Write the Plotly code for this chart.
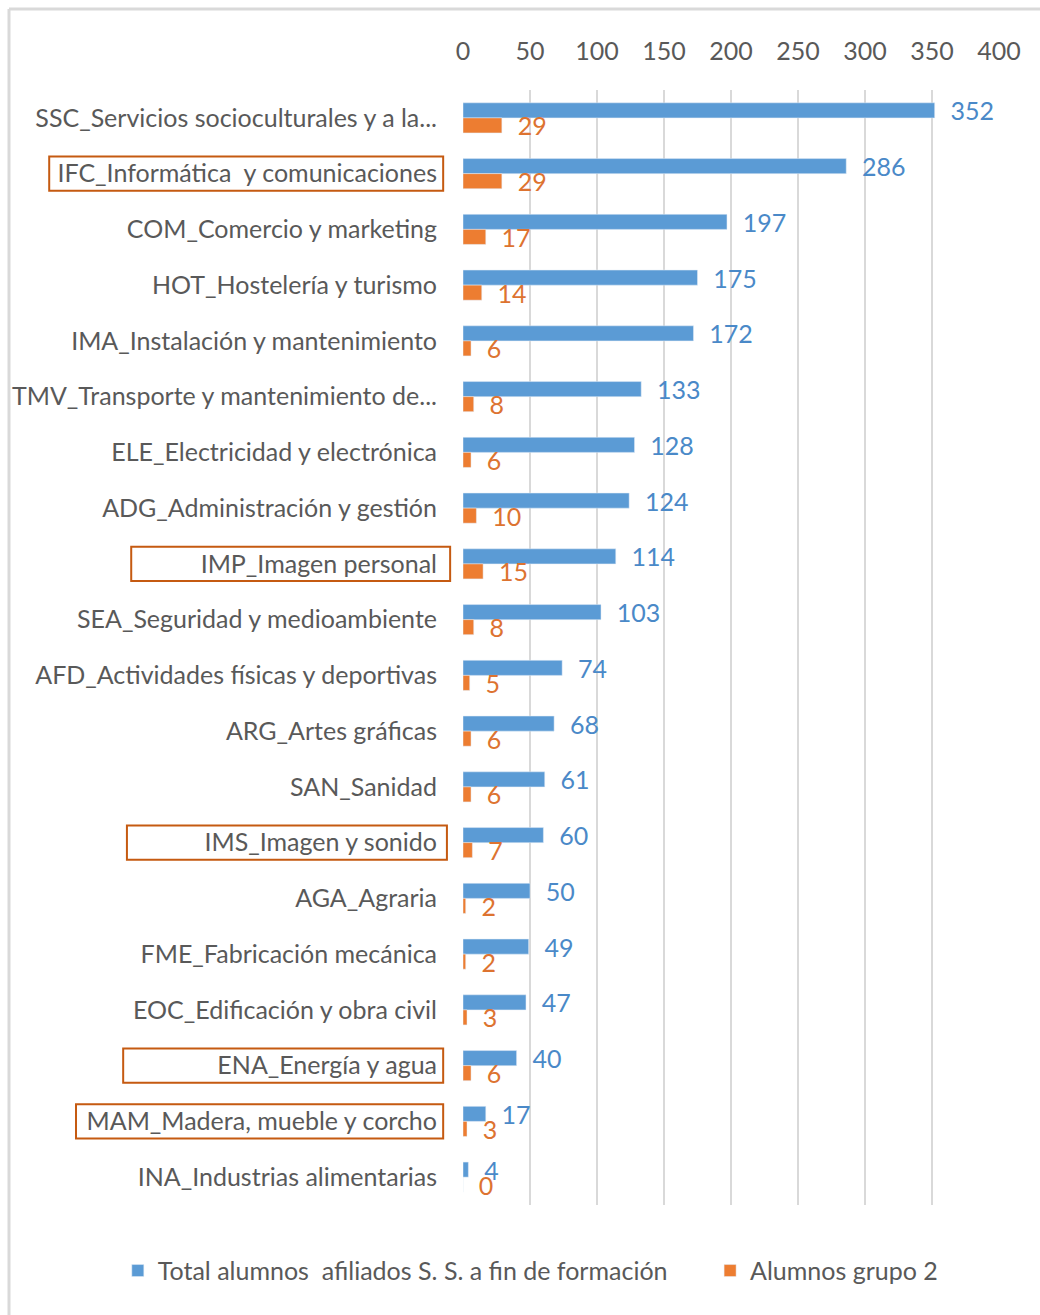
import plotly.graph_objects as go

categories = [
    "SSC_Servicios socioculturales y a la...",
    "IFC_Informática  y comunicaciones",
    "COM_Comercio y marketing",
    "HOT_Hostelería y turismo",
    "IMA_Instalación y mantenimiento",
    "TMV_Transporte y mantenimiento de...",
    "ELE_Electricidad y electrónica",
    "ADG_Administración y gestión",
    "IMP_Imagen personal",
    "SEA_Seguridad y medioambiente",
    "AFD_Actividades físicas y deportivas",
    "ARG_Artes gráficas",
    "SAN_Sanidad",
    "IMS_Imagen y sonido",
    "AGA_Agraria",
    "FME_Fabricación mecánica",
    "EOC_Edificación y obra civil",
    "ENA_Energía y agua",
    "MAM_Madera, mueble y corcho",
    "INA_Industrias alimentarias",
]
total_afiliados = [352, 286, 197, 175, 172, 133, 128, 124, 114, 103, 74, 68, 61, 60, 50, 49, 47, 40, 17, 4]
alumnos_grupo2 = [29, 29, 17, 14, 6, 8, 6, 10, 15, 8, 5, 6, 6, 7, 2, 2, 3, 6, 3, 0]
x_ticks = [0, 50, 100, 150, 200, 250, 300, 350, 400]

series_names = ["Total alumnos  afiliados S. S. a fin de formación", "Alumnos grupo 2"]
highlighted = ["IFC_Informática  y comunicaciones", "IMP_Imagen personal",
               "IMS_Imagen y sonido", "ENA_Energía y agua", "MAM_Madera, mueble y corcho"]

# style
FONT = "Lato, Liberation Sans, sans-serif"
FS = 25
BLUE = "#5b9bd5"
ORANGE = "#ed7d31"
BLUE_TXT = "#4a89c8"
ORANGE_TXT = "#dd7330"
GRAY = "#595959"
box_left = {  # paper x of the left edge of highlight boxes
    "IFC_Informática  y comunicaciones": -0.772,
    "IMP_Imagen personal": -0.619,
    "IMS_Imagen y sonido": -0.627,
    "ENA_Energía y agua": -0.634,
    "MAM_Madera, mueble y corcho": -0.722,
}
box_right = {
    "IFC_Informática  y comunicaciones": -0.037,
    "IMP_Imagen personal": -0.024,
    "IMS_Imagen y sonido": -0.030,
    "ENA_Energía y agua": -0.037,
    "MAM_Madera, mueble y corcho": -0.037,
}

pad = "\u00a0\u00a0"
fig = go.Figure()
fig.add_trace(go.Bar(
    y=categories, x=total_afiliados, orientation="h", name=series_names[0],
    marker=dict(color=BLUE), texttemplate=pad + "%{x}", textposition="outside",
    textfont=dict(color=BLUE_TXT, size=FS, family=FONT), cliponaxis=False,
    constraintext="none", textangle=0, legend="legend",
))
fig.add_trace(go.Bar(
    y=categories, x=alumnos_grupo2, orientation="h", name=series_names[1],
    marker=dict(color=ORANGE), texttemplate=pad + "%{x}", textposition="outside",
    textfont=dict(color=ORANGE_TXT, size=FS, family=FONT), cliponaxis=False,
    constraintext="none", textangle=0, legend="legend2",
))

shapes = []
for cat in highlighted:
    i = categories.index(cat)
    shapes.append(dict(type="rect", xref="paper", yref="y",
                       x0=box_left[cat], x1=box_right[cat], y0=i - 0.305, y1=i + 0.305,
                       line=dict(color="#c55a11", width=2), fillcolor="rgba(0,0,0,0)", layer="above"))
# outer chart border (top and left visible)
shapes.append(dict(type="line", xref="paper", yref="paper", x0=-0.847, x1=1.1, y0=1.0727, y1=1.0727,
                   line=dict(color="#d9d9d9", width=3)))
shapes.append(dict(type="line", xref="paper", yref="paper", x0=-0.847, x1=-0.847, y0=1.0727, y1=-0.12,
                   line=dict(color="#d9d9d9", width=3)))

legend_common = dict(orientation="h", y=-0.059, xanchor="left", yanchor="middle",
                     font=dict(size=FS, color=GRAY, family=FONT), itemwidth=30,
                     bgcolor="rgba(0,0,0,0)")
fig.update_layout(
    width=1040, height=1315, autosize=False,
    margin=dict(l=463, r=41, t=90, b=110, autoexpand=False),
    paper_bgcolor="white", plot_bgcolor="white",
    barmode="group", bargap=0.46, bargroupgap=0,
    font=dict(family=FONT, size=FS, color=GRAY),
    showlegend=True,
    legend=dict(x=-0.644, **legend_common),
    legend2=dict(x=0.461, **legend_common),
    shapes=shapes,
)
fig.update_xaxes(
    side="top", range=[0, 400], tickvals=x_ticks, showgrid=True, gridcolor="#d9d9d9",
    gridwidth=1.5, zeroline=False, showline=False, ticks="", ticklabelstandoff=24,
    tickfont=dict(size=FS, color=GRAY, family=FONT), fixedrange=True, automargin=False,
)
fig.update_yaxes(
    categoryorder="array", categoryarray=categories, autorange="reversed",
    showgrid=False, zeroline=False, showline=False, ticks="", automargin=False,
    ticklabelstandoff=25, tickfont=dict(size=FS, color=GRAY, family=FONT), fixedrange=True,
)

fig.write_html(
    "out.html",
    config={"displayModeBar": False},
    post_script="document.body.style.margin='0';document.body.style.overflow='hidden';",
)
